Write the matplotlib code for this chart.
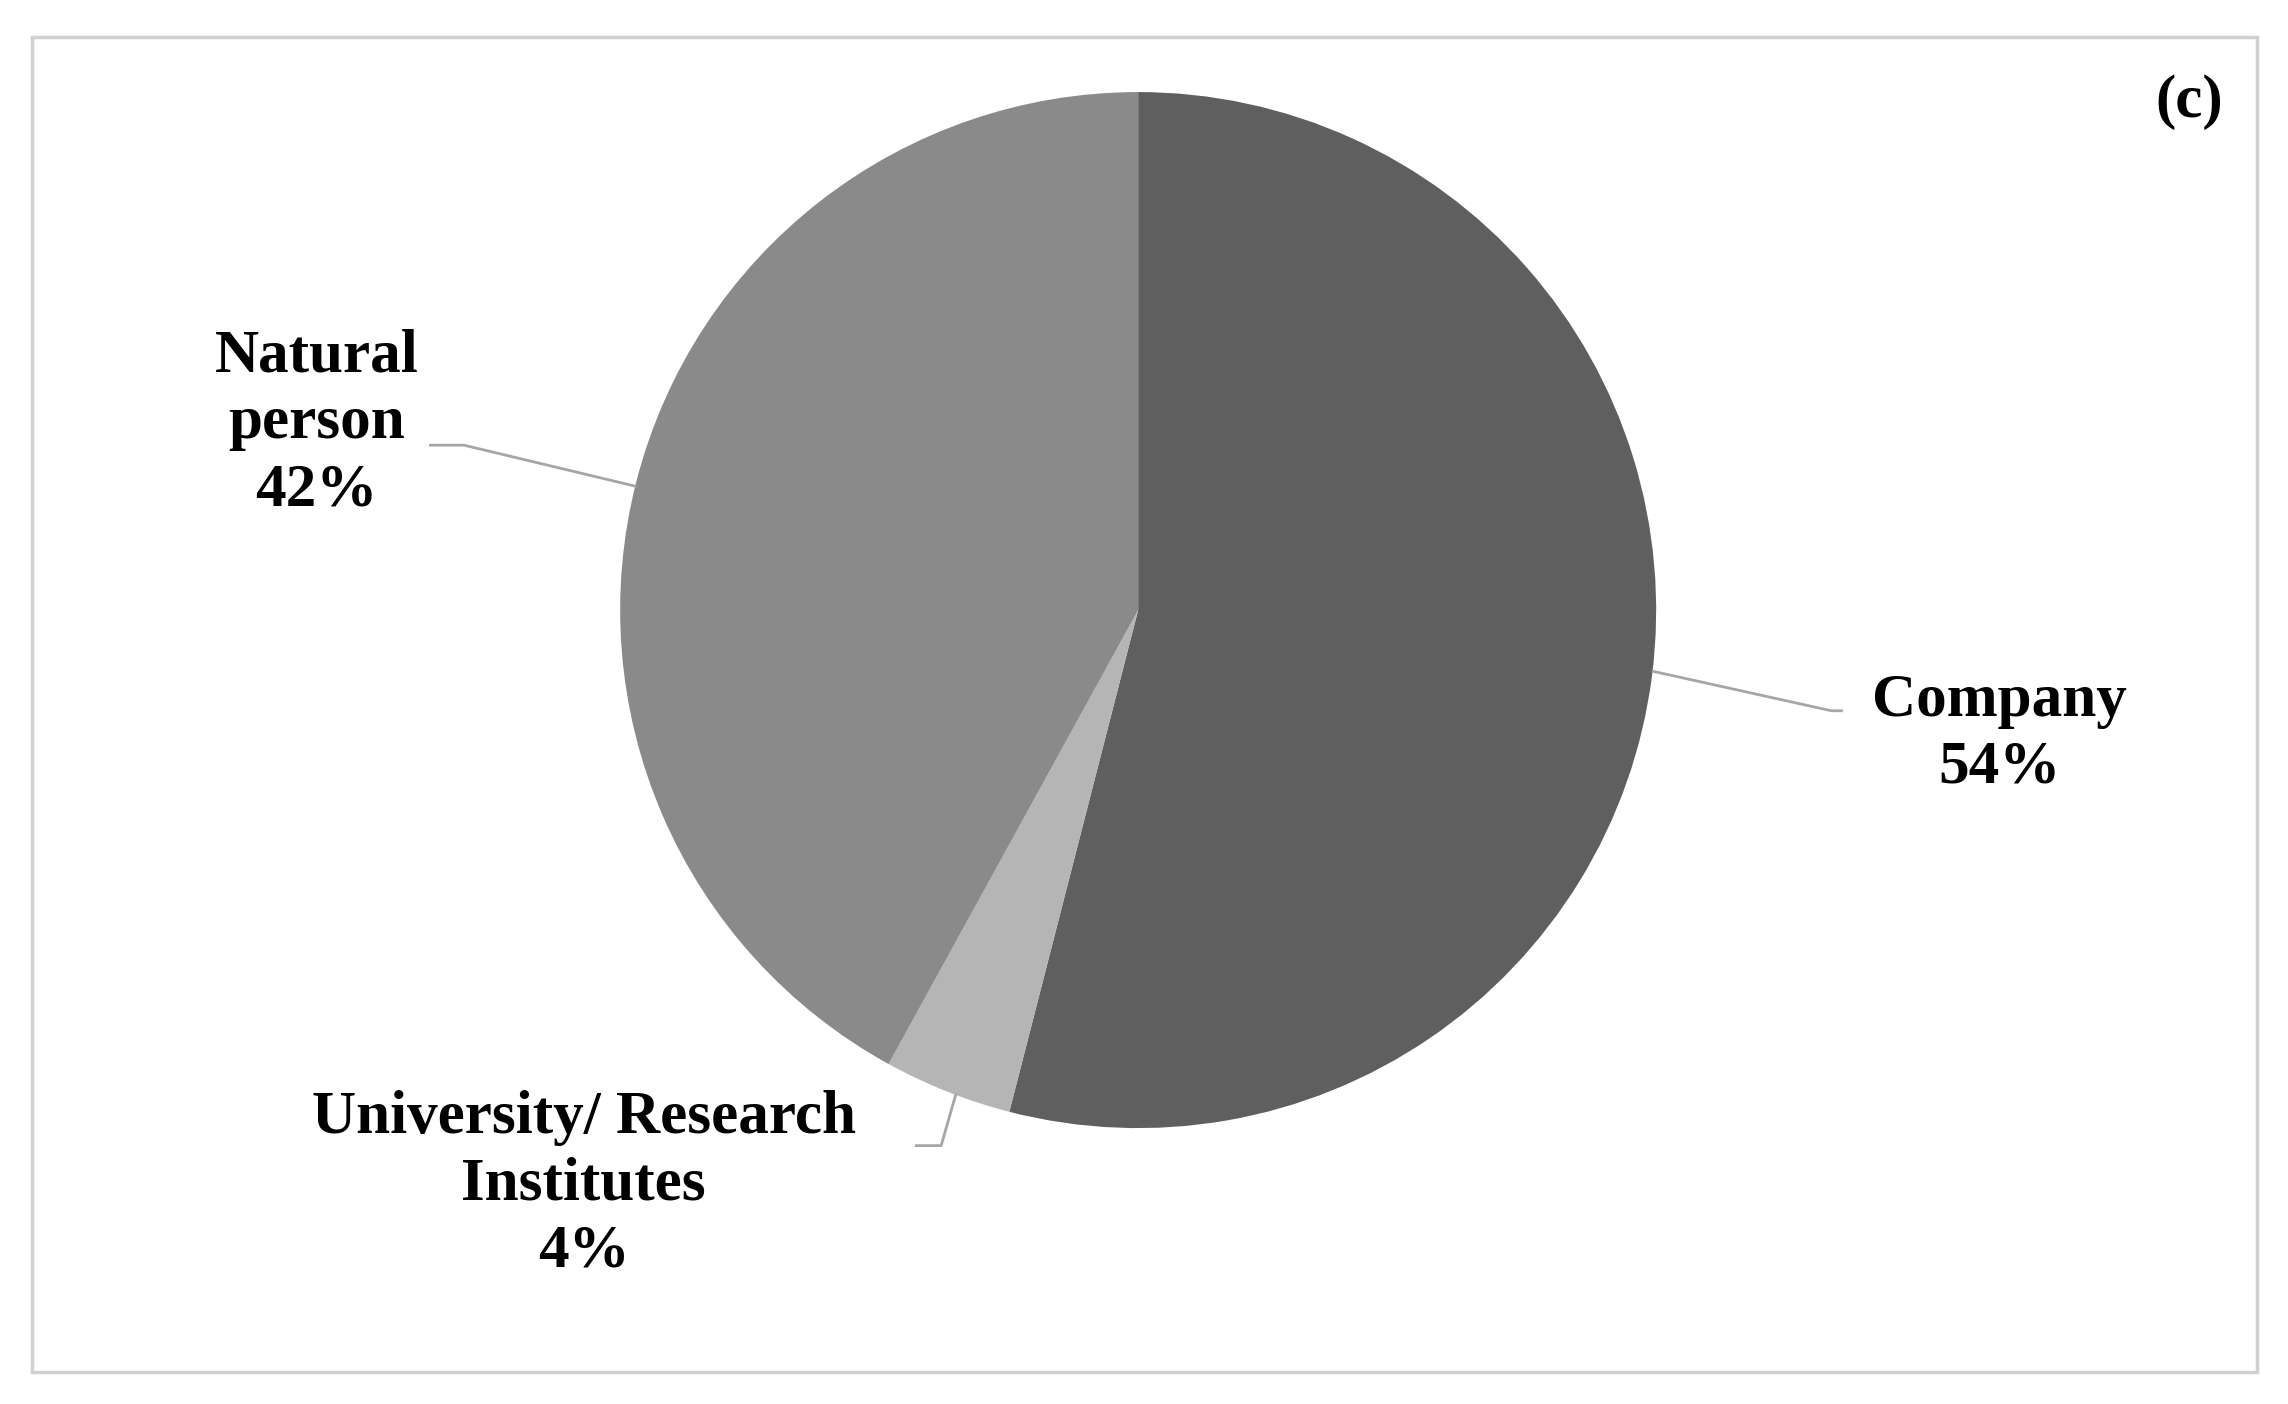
import matplotlib
matplotlib.use("Agg")
import matplotlib.pyplot as plt
from matplotlib.patches import Rectangle

categories = ["Company", "University/ Research\nInstitutes", "Natural\nperson"]
values = [54, 4, 42]
colors = ["#5f5f5f", "#b5b5b5", "#8a8a8a"]

W, H = 1568, 962
fig = plt.figure(figsize=(22.88, 14.04), dpi=100)
ax = fig.add_axes([0, 0, 1, 1])
ax.set_xlim(0, W); ax.set_ylim(H, 0); ax.set_aspect('equal'); ax.axis('off')

cx, cy, r = 780, 418, 355
wedges, _ = ax.pie(values, colors=colors, startangle=90, counterclock=False,
                   center=(cx, -cy), radius=r, frame=True,
                   wedgeprops=dict(linewidth=0))
# pie draws in y-up sense; flip by transforming wedges: simpler to redo limits
ax.set_ylim(-H, 0); ax.set_xlim(0, W); ax.set_aspect('equal'); ax.axis('off')

ax.add_patch(Rectangle((22, -940), 1525, 915, fill=False, edgecolor="#d0d0d0", lw=2.5))

font = dict(family="Liberation Serif", weight="bold", fontsize=44, color="black",
            ha="center", va="center", linespacing=1.25)
lc = "#a6a6a6"
ax.plot([435, 318, 295], [-333, -305, -305], color=lc, lw=2)
ax.plot([1133, 1255, 1262], [-460, -487, -487], color=lc, lw=2)
ax.plot([655, 645, 628], [-750, -785, -785], color=lc, lw=2)

ax.text(217, -290, f"{categories[2]}\n{values[2]}%", **font)
ax.text(1370, -503, f"{categories[0]}\n{values[0]}%", **font)
ax.text(400, -812, f"{categories[1]}\n{values[1]}%", **font)
ax.text(1500, -70, "(c)", **font)

fig.savefig("out.png", dpi=100)
